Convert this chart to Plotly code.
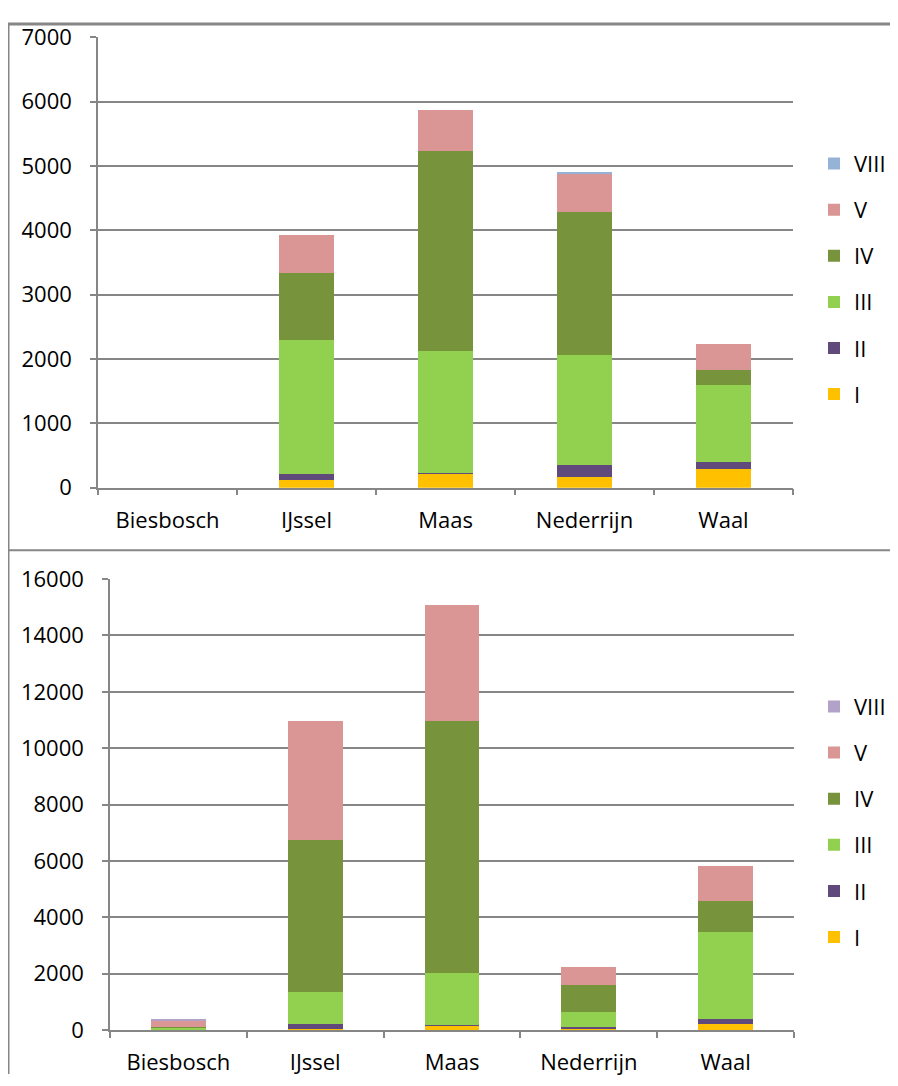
import plotly.graph_objects as go

FONT = "Open Sans"
GRID = "#868686"

rivieren = ["Biesbosch", "IJssel", "Maas", "Nederrijn", "Waal"]
klassen = ["I", "II", "III", "IV", "V", "VIII"]

# bovenste grafiek
boven = {
    "I": [0, 115, 220, 165, 294],
    "II": [0, 92, 10, 182, 109],
    "III": [0, 2088, 1894, 1710, 1193],
    "IV": [0, 1042, 3111, 2229, 233],
    "V": [0, 587, 636, 596, 409],
    "VIII": [0, 0, 0, 20, 0],
}

# onderste grafiek
onder = {
    "I": [0, 40, 140, 30, 213],
    "II": [0, 160, 40, 80, 188],
    "III": [90, 1161, 1855, 515, 3091],
    "IV": [25, 5374, 8928, 959, 1076],
    "V": [205, 4242, 4121, 654, 1258],
    "VIII": [80, 0, 0, 0, 0],
}

kleuren_boven = {
    "I": "#FFC000", "II": "#604A7B", "III": "#92D050",
    "IV": "#77933C", "V": "#D99694", "VIII": "#95B3D7",
}
kleuren_onder = dict(kleuren_boven, VIII="#B3A2C7")

# figuur staat in de pagina vanaf (LEFT, TOP); de foto is verticaal iets ingedrukt
W, H = 890, 1080
LEFT, TOP = 8, 24
SCHAAL_Y = 0.9713


def px_x(sx):
    return (sx - LEFT) / W


def px_y(sy):
    return 1 - (sy / SCHAAL_Y - TOP) / H


fig = go.Figure()
for i, k in enumerate(klassen):
    fig.add_trace(go.Bar(
        x=rivieren, y=boven[k], name=k, marker_color=kleuren_boven[k],
        marker_line_width=0, xaxis="x", yaxis="y", legend="legend",
        legendgroup="b" + k, legendrank=100 - i,
    ))
for i, k in enumerate(klassen):
    fig.add_trace(go.Bar(
        x=rivieren, y=onder[k], name=k, marker_color=kleuren_onder[k],
        marker_line_width=0, xaxis="x2", yaxis="y2", legend="legend2",
        legendgroup="o" + k, legendrank=100 - i,
    ))

as_x = dict(
    type="category", showline=True, linecolor=GRID, linewidth=1.5,
    ticks="outside", tickson="boundaries", ticklen=6, tickcolor=GRID,
    tickwidth=1.5, showgrid=False, tickfont=dict(size=22, color="black"),
    ticklabelstandoff=12, fixedrange=True,
)
as_y = dict(
    showline=True, linecolor=GRID, linewidth=1.5, ticks="outside",
    ticklen=6, tickcolor=GRID, tickwidth=1.5, showgrid=True,
    gridcolor=GRID, gridwidth=1.5, zeroline=False, tickformat="d",
    tickfont=dict(size=22, color="black"), ticklabelstandoff=14,
)
leg = dict(
    font=dict(size=22, color="black", family=FONT), bgcolor="rgba(0,0,0,0)",
    traceorder="grouped", tracegroupgap=14.5, xanchor="left", yanchor="top",
)

fig.update_layout(
    width=W, height=H, autosize=False,
    margin=dict(l=0, r=0, t=0, b=0),
    paper_bgcolor="white", plot_bgcolor="white",
    font=dict(family=FONT, size=22, color="black"),
    barmode="stack", bargap=0.6,
    xaxis=dict(as_x, domain=[px_x(98), px_x(793)], anchor="y"),
    yaxis=dict(as_y, domain=[px_y(486.6), px_y(36.7)], range=[0, 7000],
               dtick=1000, anchor="x"),
    xaxis2=dict(as_x, domain=[px_x(110), px_x(794)], anchor="y2"),
    yaxis2=dict(as_y, domain=[px_y(1028.3), px_y(577.9)], range=[0, 16000],
                dtick=2000, anchor="x2"),
    legend=dict(leg, x=px_x(814), y=px_y(142)),
    legend2=dict(leg, x=px_x(814), y=px_y(684.4)),
    shapes=[
        dict(type="line", xref="paper", yref="paper", x0=0, x1=1, y0=1, y1=1,
             line=dict(color=GRID, width=3)),
        dict(type="line", xref="paper", yref="paper", x0=0, x1=0, y0=0, y1=1,
             line=dict(color=GRID, width=3)),
        dict(type="line", xref="paper", yref="paper", x0=0, x1=1,
             y0=px_y(549), y1=px_y(549), line=dict(color=GRID, width=2)),
    ],
)

fig.write_html("out.html")
